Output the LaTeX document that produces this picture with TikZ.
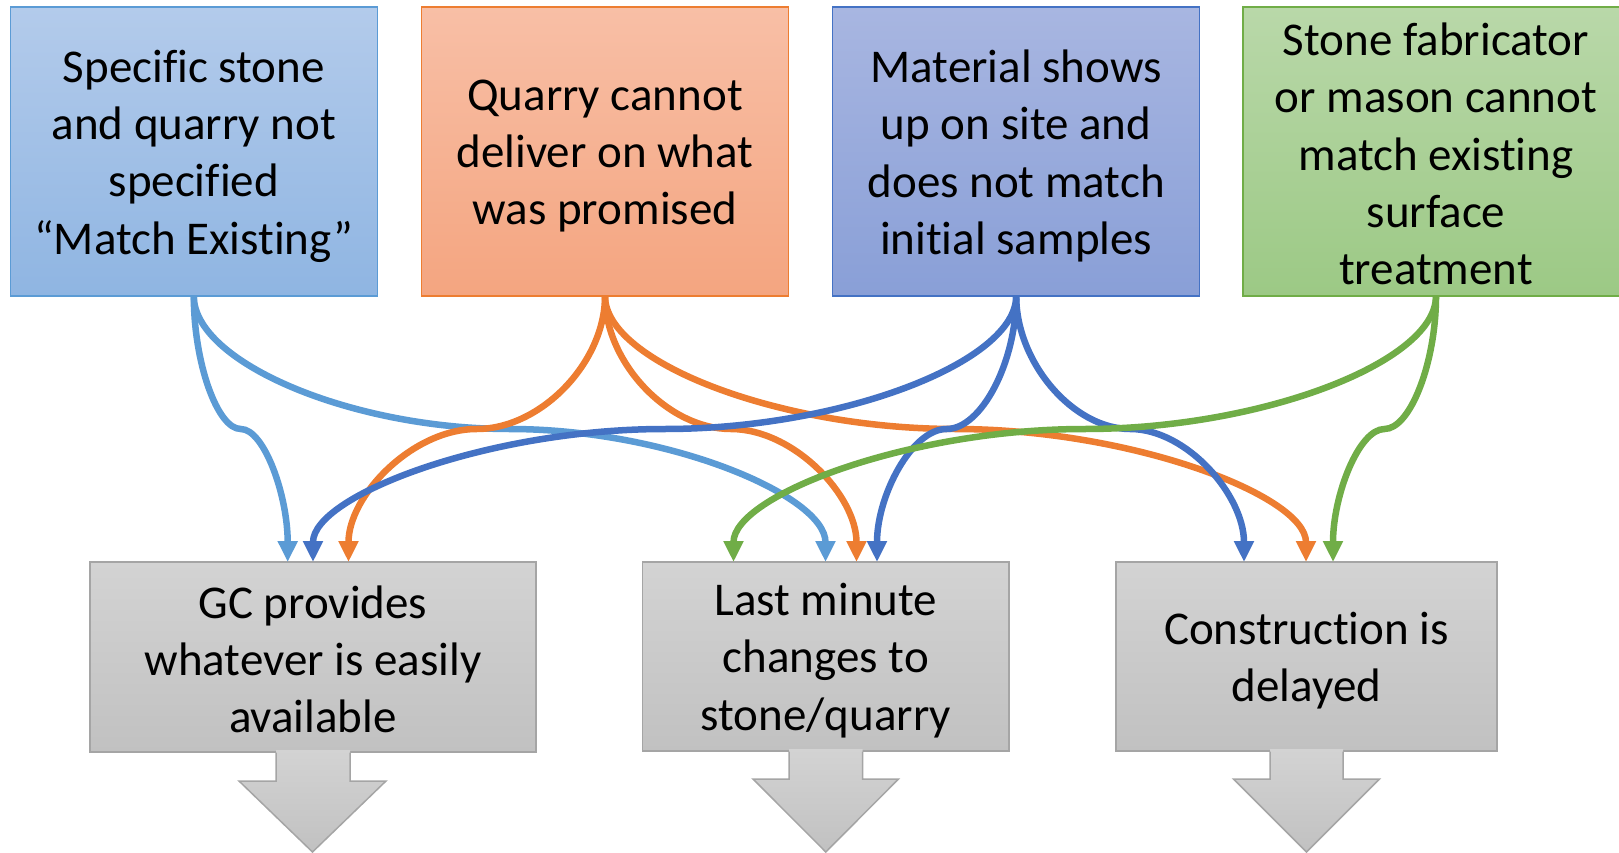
\documentclass[tikz,border=0pt]{standalone}
\usepackage{fontspec}
\setmainfont{Carlito}[Ligatures=NoCommon]
\usetikzlibrary{arrows.meta,calc}
\definecolor{lb}{HTML}{5B9BD5}
\definecolor{ob}{HTML}{ED7D31}
\definecolor{db}{HTML}{4472C4}
\definecolor{gb}{HTML}{70AD47}
\definecolor{grb}{HTML}{A5A5A5}
\definecolor{lbT}{HTML}{B3CBEB}
\definecolor{lbB}{HTML}{8FB5E2}
\definecolor{obT}{HTML}{F8BFA6}
\definecolor{obB}{HTML}{F4A580}
\definecolor{dbT}{HTML}{A8B6E1}
\definecolor{dbB}{HTML}{899FD7}
\definecolor{gbT}{HTML}{B9D8A9}
\definecolor{gbB}{HTML}{9CC985}
\definecolor{grT}{HTML}{D3D3D3}
\definecolor{grB}{HTML}{C1C1C1}
\newcommand\pconn[3]{\draw[#1] let \p1=(#2), \p2=(#3) in (#2) .. controls (\x1,{\y1+(\y2-\y1)/4}) and ({\x1+(\x2-\x1)/4},{(\y1+\y2)/2}) .. ({(\x1+\x2)/2},{(\y1+\y2)/2}) .. controls ({\x1+3*(\x2-\x1)/4},{(\y1+\y2)/2}) and (\x2,{\y1+3*(\y2-\y1)/4}) .. (#3);}
\tikzset{
  boxbase/.style={inner sep=0pt, outer sep=0pt, line width=1.5pt, anchor=north west},
  txt/.style={align=center, inner sep=0pt, outer sep=0pt,
    font=\fontsize{47}{57.3}\selectfont},
  topbox/.style={boxbase, minimum width=367pt, minimum height=289pt},
  botbox/.style={boxbase, draw=grb, top color=grT, bottom color=grB, minimum height=190pt},
  conn/.style={draw=#1, line width=6.5pt, -{Triangle[length=21pt,width=19pt]}},
  blockfill/.style={top color=grT, bottom color=grB},
  blockline/.style={draw=grb, line width=1.5pt, line join=miter}
}
\begin{document}
\begin{tikzpicture}[x=1pt,y=-1pt]
\useasboundingbox (0,0) rectangle (1619,853);
\clip (0,0) rectangle (1619,853);
% top boxes
\node[topbox, draw=lb, top color=lbT, bottom color=lbB] (b1) at (10.3,7) {};
\node[topbox, draw=ob, top color=obT, bottom color=obB] (b2) at (421.5,7) {};
\node[topbox, draw=db, top color=dbT, bottom color=dbB] (b3) at (832.7,7) {};
\node[topbox, minimum width=386pt, draw=gb, top color=gbT, bottom color=gbB] (b4) at (1243,7) {};
\node[txt] (t1) at ([yshift=-4.5pt]b1.center) {Specific stone\\and quarry not\\specified\\“Match Existing”};
\node[txt] (t2) at ([yshift=-4.5pt]b2.center) {Quarry cannot\\deliver on what\\was promised};
\node[txt] (t3) at ([yshift=-4.5pt]b3.center) {Material shows\\up on site and\\does not match\\initial samples};
\node[txt] (t4) at ([yshift=-2.5pt]b4.center) {Stone fabricator\\or mason cannot\\match existing\\surface\\treatment};
% bottom boxes
\node[botbox, minimum width=446pt] (gc) at (90,562) {};
\node[botbox, minimum width=366.4pt, minimum height=189pt] (lm) at (642.6,562) {};
\node[botbox, minimum width=381pt, minimum height=189pt] (cd) at (1116,562) {};
\node[txt] (t5) at ([yshift=-2.5pt]gc.center) {GC provides\\whatever is easily\\available};
\node[txt] (t6) at ([yshift=-4pt]lm.center) {Last minute\\changes to\\stone/quarry};
\node[txt] (t7) at ([yshift=-4pt]cd.center) {Construction is\\delayed};
% block arrows
\shade[blockfill] (276,750) -- (276,781) -- (239,781) -- (312.5,852) -- (386,781) -- (350,781) -- (350,750) -- cycle;
\draw[blockline] (276,752.5) -- (276,781) -- (239,781) -- (312.5,852) -- (386,781) -- (350,781) -- (350,752.5);
\shade[blockfill] (789,749) -- (789,779) -- (753,779) -- (825.8,852) -- (898.5,779) -- (862.5,779) -- (862.5,749) -- cycle;
\draw[blockline] (789,751.5) -- (789,779) -- (753,779) -- (825.8,852) -- (898.5,779) -- (862.5,779) -- (862.5,751.5);
\shade[blockfill] (1270,749) -- (1270,779) -- (1233.5,779) -- (1306.5,852) -- (1379.5,779) -- (1343,779) -- (1343,749) -- cycle;
\draw[blockline] (1270,751.5) -- (1270,779) -- (1233.5,779) -- (1306.5,852) -- (1379.5,779) -- (1343,779) -- (1343,751.5);
% connector end points
\coordinate (gcA) at ([xshift=197.7pt]gc.north west);
\coordinate (gcB) at ([xshift=223pt]gc.north west);
\coordinate (gcC) at ([xshift=258.5pt]gc.north west);
\coordinate (lmA) at ([xshift=90.9pt]lm.north west);
\coordinate (lmB) at ([xshift=182.9pt]lm.north west);
\coordinate (lmC) at ([xshift=213.9pt]lm.north west);
\coordinate (lmD) at ([xshift=234.4pt]lm.north west);
\coordinate (cdA) at ([xshift=128pt]cd.north west);
\coordinate (cdB) at ([xshift=190pt]cd.north west);
\coordinate (cdC) at ([xshift=217pt]cd.north west);
% connectors
\pconn{conn=lb}{b1.south}{gcA}
\pconn{conn=lb}{b1.south}{lmB}
\pconn{conn=ob}{b2.south}{gcC}
\pconn{conn=ob}{b2.south}{lmC}
\pconn{conn=ob}{b2.south}{cdB}
\pconn{conn=db}{b3.south}{gcB}
\pconn{conn=db}{b3.south}{lmD}
\pconn{conn=db}{b3.south}{cdA}
\pconn{conn=gb}{b4.south}{lmA}
\pconn{conn=gb}{b4.south}{cdC}
\end{tikzpicture}
\end{document}
